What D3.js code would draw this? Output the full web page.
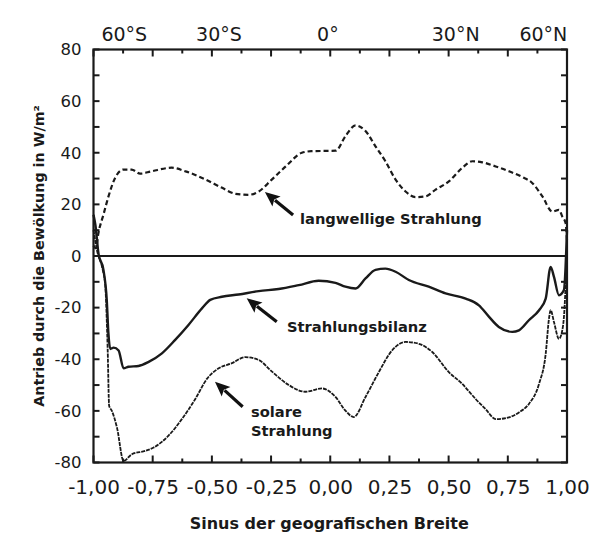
<!DOCTYPE html>
<html>
<head>
<meta charset="utf-8">
<script src="https://cdn.jsdelivr.net/npm/d3@7"></script>
<style>
  body { margin: 0; background: #fff; }
  svg { display: block; }
  text { font-family: "DejaVu Sans", sans-serif; fill: #1a1a1a; }
</style>
</head>
<body>
<svg width="601" height="539"></svg>
<script>
const width = 601;
const height = 539;
const margin = { top: 49.5, right: 34, bottom: 76.5, left: 93.5 };

// x = sine of latitude, y = cloud forcing in W/m²
const longwave = [
  [-1.0, 4], [-0.99, 3], [-0.979, 9], [-0.958, 16], [-0.937, 23], [-0.908, 30.4],
  [-0.873, 33.5], [-0.839, 33.5], [-0.803, 31.9], [-0.755, 32.8], [-0.67, 34.2],
  [-0.611, 32.8], [-0.526, 29.6], [-0.459, 26.5], [-0.4, 24.1], [-0.345, 23.7],
  [-0.302, 25], [-0.247, 29.6], [-0.188, 34.7], [-0.12, 40], [-0.08, 40.6],
  [0.023, 40.8], [0.064, 46.4], [0.107, 50.6], [0.149, 48.4], [0.191, 42.5],
  [0.233, 36.7], [0.276, 29.6], [0.318, 25], [0.36, 22.8], [0.403, 23.1],
  [0.445, 25.7], [0.501, 28.9], [0.557, 34.1], [0.6, 36.7], [0.642, 36.3],
  [0.699, 34.7], [0.755, 32.8], [0.811, 30.6], [0.853, 28.3], [0.896, 23.1],
  [0.938, 17.2], [0.966, 17.9], [0.98, 15.3], [0.994, 12.8], [1.0, 6]
];

const netForcing = [
  [-1.0, 16], [-0.992, 12], [-0.979, 1], [-0.958, -5.4], [-0.944, -17], [-0.937, -30],
  [-0.929, -36], [-0.915, -35.5], [-0.894, -36.6], [-0.873, -43.5], [-0.852, -42.9],
  [-0.81, -42.6], [-0.767, -41], [-0.711, -37.7], [-0.655, -32.5], [-0.598, -26.6],
  [-0.542, -20.3], [-0.507, -17], [-0.458, -15.8], [-0.387, -14.9], [-0.302, -13.6],
  [-0.218, -12.8], [-0.133, -11.3], [-0.049, -9.6], [0.022, -10.4], [0.064, -11.9],
  [0.107, -12.6], [0.149, -8.7], [0.191, -5.4], [0.233, -4.9], [0.276, -6.1],
  [0.332, -9.3], [0.416, -11.9], [0.487, -14.5], [0.572, -16.5], [0.628, -19.1],
  [0.67, -23.5], [0.712, -27.5], [0.769, -29.4], [0.797, -28.8], [0.839, -24.9],
  [0.882, -21], [0.91, -16.5], [0.931, -4.2], [0.945, -8.1], [0.966, -15.2],
  [0.987, -13.2], [1.0, 10]
];

const solar = [
  [-1.0, 10], [-0.986, 2.5], [-0.962, -5], [-0.951, -10.6], [-0.94, -36.6], [-0.934, -58],
  [-0.923, -59.9], [-0.901, -66.4], [-0.873, -79.4], [-0.838, -76.8], [-0.781, -75.5],
  [-0.746, -74.2], [-0.683, -69.6], [-0.627, -63.2], [-0.57, -55.4], [-0.521, -47.6],
  [-0.471, -43.5], [-0.415, -41.5], [-0.359, -39.2], [-0.302, -40.3], [-0.246, -44.8],
  [-0.175, -50], [-0.105, -52.6], [-0.035, -51.3], [0.022, -54.6], [0.064, -59.9],
  [0.099, -62.4], [0.149, -54.6], [0.205, -45], [0.261, -36.6], [0.318, -33.3],
  [0.374, -34], [0.431, -37.2], [0.501, -45], [0.557, -49.5], [0.614, -55.4],
  [0.656, -59.3], [0.699, -63.2], [0.755, -62.5], [0.797, -60.6], [0.839, -57.3],
  [0.882, -49.5], [0.91, -37.9], [0.924, -24.2], [0.931, -21], [0.945, -25.6],
  [0.966, -32.1], [0.98, -28.8], [0.987, -23.7], [1.0, 2]
];

const xTicks = [-1, -0.75, -0.5, -0.25, 0, 0.25, 0.5, 0.75, 1];
const xMinorTicks = [-0.875, -0.625, -0.375, -0.125, 0.125, 0.375, 0.625, 0.875];
const yTicks = [-80, -60, -40, -20, 0, 20, 40, 60, 80];
const yMinorTicks = [-70, -50, -30, -10, 10, 30, 50, 70];
const latLabels = ["60°S", "30°S", "0°", "30°N", "60°N"];
const latLabelPos = [-0.87, -0.47, -0.01, 0.53, 0.9];

// annotations: text lines, text anchor point, arrow tail and tip (data units)
const notes = [
  { lines: ["langwellige Strahlung"], at: [-0.128, 12.4], tail: [-0.157, 15.9], tip: [-0.276, 24.8] },
  { lines: ["Strahlungsbilanz"], at: [-0.183, -29.3], tail: [-0.226, -25.5], tip: [-0.353, -16.4] },
  { lines: ["solare", "Strahlung"], at: [-0.335, -62.3], tail: [-0.37, -58.4], tip: [-0.487, -48.7] }
];

const svg = d3.select("svg");
svg.append("rect").attr("width", width).attr("height", height).attr("fill", "#fff");

const x = d3.scaleLinear().domain([-1, 1]).range([margin.left, width - margin.right]);
const y = d3.scaleLinear().domain([-80, 80]).range([height - margin.bottom, margin.top]);

const loc = d3.formatLocale({ decimal: ",", thousands: ".", grouping: [3], currency: ["", ""], minus: "-" });
const fmtX = loc.format(".2f");
const fmtY = loc.format("d");

// tick labels from the d3 axes
const xb = svg.append("g").attr("transform", `translate(0,${y(-80)})`)
  .call(d3.axisBottom(x).tickValues(xTicks).tickSize(0).tickPadding(13).tickFormat(fmtX));
xb.select(".domain").remove();
xb.selectAll("text").style("font-size", "20px").attr("dy", "0.9em").attr("fill", "#1a1a1a");

const yl = svg.append("g").attr("transform", `translate(${x(-1)},0)`)
  .call(d3.axisLeft(y).tickValues(yTicks).tickSize(0).tickPadding(12).tickFormat(fmtY));
yl.select(".domain").remove();
yl.selectAll("text").style("font-size", "16.5px").attr("fill", "#1a1a1a");

// inward tick marks on all four sides
const tickG = svg.append("g").attr("stroke", "#1a1a1a").attr("stroke-width", 2);
[[xTicks, 7], [xMinorTicks, 4]].forEach(([vals, len]) => {
  tickG.append("g").selectAll("line").data(vals).join("line")
    .attr("x1", d => x(d)).attr("x2", d => x(d))
    .attr("y1", y(-80)).attr("y2", y(-80) - len);
  tickG.append("g").selectAll("line").data(vals).join("line")
    .attr("x1", d => x(d)).attr("x2", d => x(d))
    .attr("y1", y(80)).attr("y2", y(80) + len);
});
[yTicks, yMinorTicks].forEach(vals => {
  tickG.append("g").selectAll("line").data(vals).join("line")
    .attr("y1", d => y(d)).attr("y2", d => y(d))
    .attr("x1", x(-1)).attr("x2", x(-1) + 6);
  tickG.append("g").selectAll("line").data(vals).join("line")
    .attr("y1", d => y(d)).attr("y2", d => y(d))
    .attr("x1", x(1)).attr("x2", x(1) - 6);
});

// latitude labels on top
svg.append("g").selectAll("text")
  .data(latLabels)
  .join("text")
  .attr("x", (d, i) => x(latLabelPos[i]))
  .attr("y", 41)
  .attr("text-anchor", "middle")
  .style("font-size", "19px")
  .text(d => d);

// frame and zero line
svg.append("rect")
  .attr("x", x(-1)).attr("y", y(80))
  .attr("width", x(1) - x(-1)).attr("height", y(-80) - y(80))
  .attr("fill", "none").attr("stroke", "#1a1a1a").attr("stroke-width", 2.2);

svg.append("line")
  .attr("x1", x(-1)).attr("x2", x(1))
  .attr("y1", y(0)).attr("y2", y(0))
  .attr("stroke", "#1a1a1a").attr("stroke-width", 2);

const curve = d3.line()
  .x(d => x(d[0]))
  .y(d => y(d[1]))
  .curve(d3.curveMonotoneX);

svg.append("path").datum(solar)
  .attr("d", curve).attr("fill", "none")
  .attr("stroke", "#1a1a1a").attr("stroke-width", 1.8)
  .attr("stroke-dasharray", "4,1");

svg.append("path").datum(longwave)
  .attr("d", curve).attr("fill", "none")
  .attr("stroke", "#1a1a1a").attr("stroke-width", 2.2)
  .attr("stroke-dasharray", "5,3");

svg.append("path").datum(netForcing)
  .attr("d", curve).attr("fill", "none")
  .attr("stroke", "#1a1a1a").attr("stroke-width", 2.4)
  .attr("stroke-linejoin", "round");

// annotations with arrows
const ann = svg.append("g").selectAll("g").data(notes).join("g");

ann.each(function (d) {
  const g = d3.select(this);
  const sx = x(d.tail[0]), sy = y(d.tail[1]);
  const tx = x(d.tip[0]), ty = y(d.tip[1]);
  const len = Math.hypot(tx - sx, ty - sy);
  const ux = (tx - sx) / len, uy = (ty - sy) / len;
  const headLen = 15, headHalf = 6.5;
  const bx = tx - ux * headLen, by = ty - uy * headLen;

  g.append("line")
    .attr("x1", sx).attr("y1", sy).attr("x2", bx + ux * 2).attr("y2", by + uy * 2)
    .attr("stroke", "#111").attr("stroke-width", 3.2);

  const p = d3.path();
  p.moveTo(tx, ty);
  p.lineTo(bx - uy * headHalf, by + ux * headHalf);
  p.lineTo(bx + ux * 3, by + uy * 3);
  p.lineTo(bx + uy * headHalf, by - ux * headHalf);
  p.closePath();
  g.append("path").attr("d", p.toString()).attr("fill", "#111");

  g.selectAll("text")
    .data(d.lines)
    .join("text")
    .attr("x", x(d.at[0]))
    .attr("y", (t, i) => y(d.at[1]) + i * 19.5)
    .style("font-size", "14.7px")
    .style("font-weight", "bold")
    .text(t => t);
});

// axis titles
svg.append("text")
  .attr("x", (x(-1) + x(1)) / 2 - 1)
  .attr("y", 529)
  .attr("text-anchor", "middle")
  .style("font-size", "16px")
  .style("font-weight", "bold")
  .text("Sinus der geografischen Breite");

svg.append("text")
  .attr("transform", `translate(44,${y(0)}) rotate(-90)`)
  .attr("text-anchor", "middle")
  .style("font-size", "14.3px")
  .style("font-weight", "bold")
  .text("Antrieb durch die Bewölkung in W/m²");
</script>
</body>
</html>
